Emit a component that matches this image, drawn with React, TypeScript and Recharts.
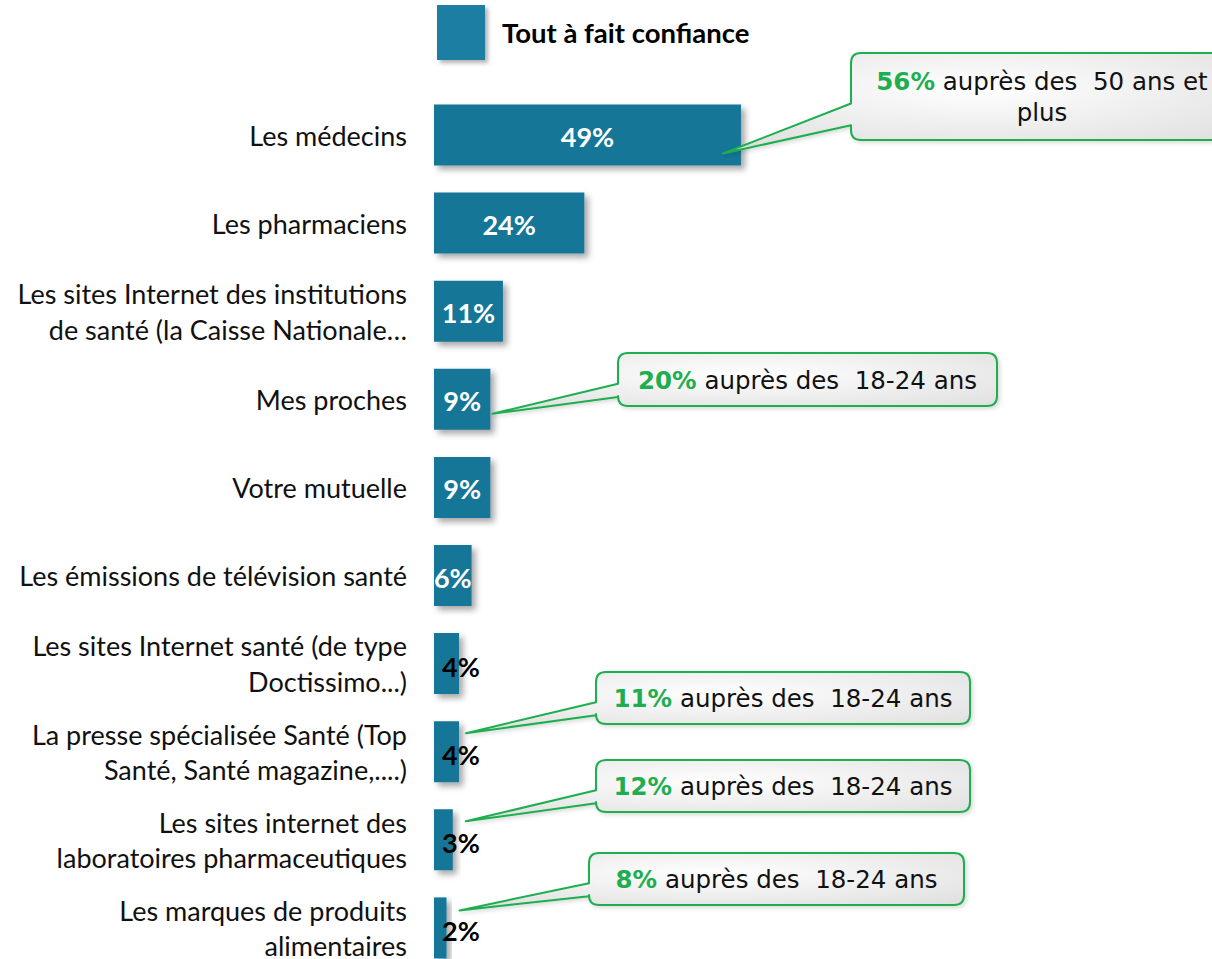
import { BarChart, Bar, XAxis, YAxis, LabelList } from 'recharts'

const categories = [
  'Les médecins',
  'Les pharmaciens',
  'Les sites Internet des institutions\nde santé (la Caisse Nationale…',
  'Mes proches',
  'Votre mutuelle',
  'Les émissions de télévision santé',
  'Les sites Internet santé (de type\nDoctissimo...)',
  'La presse spécialisée Santé (Top\nSanté, Santé magazine,....)',
  'Les sites internet des\nlaboratoires pharmaceutiques',
  'Les marques de produits\nalimentaires',
]
const toutAFait = [49, 24, 11, 9, 9, 6, 4, 4, 3, 2]
const seriesName = 'Tout à fait confiance'

// sub-group highlights shown in the green call-outs
const calloutPct = ['56%', '', '', '20%', '', '', '', '11%', '12%', '8%']
const calloutText = [
  'auprès des  50 ans et\nplus',
  '',
  '',
  'auprès des  18-24 ans',
  '',
  '',
  '',
  'auprès des  18-24 ans',
  'auprès des  18-24 ans',
  'auprès des  18-24 ans',
]

const data = categories.map((name, i) => ({ name, value: toutAFait[i], idx: i }))

// call-out box placement (page coords) + pointer tip relative to bar end / bar top
const calloutBoxes: Record<number, { x: number; y: number; w: number; h: number; tipDx: number; tipDy: number }> = {
  0: { x: 851, y: 53, w: 382, h: 87, tipDx: -18, tipDy: 49 },
  3: { x: 618, y: 353, w: 379, h: 53, tipDx: 2, tipDy: 45 },
  7: { x: 596, y: 672, w: 374, h: 52, tipDx: 7, tipDy: 12 },
  8: { x: 596, y: 760, w: 374, h: 52, tipDx: 13, tipDy: 12 },
  9: { x: 589, y: 853, w: 375, h: 52, tipDx: 13, tipDy: 13 },
}

const BAR = '#187698'
const GREEN = '#1fae4f'
const LABEL_FONT = 'Lato, "Open Sans", sans-serif'
const CALLOUT_FONT = '"DejaVu Sans", sans-serif'

const CategoryTick = ({ x, y, payload }: any) => {
  const lines = String(payload.value).split('\n')
  const lh = 35.5
  const start = y - ((lines.length - 1) * lh) / 2 + 2
  return (
    <text x={x} y={start} textAnchor="end" fontFamily={LABEL_FONT} fontSize={27} fill="#111">
      {lines.map((l, i) => (
        <tspan key={i} x={x} y={start + i * lh} dy={9}>{l}</tspan>
      ))}
    </text>
  )
}

const ValueLabel = (props: any) => {
  const { x, y, width, height, value } = props
  const cy = y + height / 2
  if (value >= 5) {
    return (
      <text x={x + width / 2} y={cy + 12} textAnchor="middle" fontFamily={LABEL_FONT} fontWeight={700} fontSize={27} fill="#fff">
        {value}%
      </text>
    )
  }
  return (
    <text x={x + 8} y={cy + 13} textAnchor="start" fontFamily={LABEL_FONT} fontWeight={700} fontSize={27} fill="#000">
      {value}%
    </text>
  )
}

const Callout = (props: any) => {
  const { x, y, width, value } = props
  const i = Number(value)
  const b = calloutBoxes[i]
  if (!b || !calloutPct[i]) return null
  const tx = x + width + b.tipDx
  const ty = y + b.tipDy
  const r = 10
  const { x: bx, y: by, w, h } = b
  const d = `M${bx + r},${by} H${bx + w - r} Q${bx + w},${by} ${bx + w},${by + r} V${by + h - r} Q${bx + w},${by + h} ${bx + w - r},${by + h} H${bx + r} Q${bx},${by + h} ${bx},${by + h - r} V${by + h * 0.83} L${tx},${ty} L${bx},${by + h * 0.58} V${by + r} Q${bx},${by} ${bx + r},${by} Z`
  const lines = calloutText[i].split('\n')
  const lh = 31
  const cx = bx + w / 2
  const first = by + h / 2 - ((lines.length - 1) * lh) / 2 + 9
  return (
    <g>
      <path d={d} fill="url(#calloutFill)" stroke={GREEN} strokeWidth={2} strokeLinejoin="round" filter="url(#softShadow)" />
      <text x={cx} y={first} textAnchor="middle" fontFamily={CALLOUT_FONT} fontSize={24.5} fill="#111" style={{ whiteSpace: 'pre' }}>
        {lines.map((l, k) =>
          k === 0 ? (
            <tspan key={k} x={cx} y={first}>
              <tspan fill={GREEN} fontWeight={700}>{calloutPct[i]}</tspan>
              <tspan>{' ' + l}</tspan>
            </tspan>
          ) : (
            <tspan key={k} x={cx} y={first + k * lh}>{l}</tspan>
          )
        )}
      </text>
    </g>
  )
}

export default function App() {
  return (
    <div style={{ position: 'absolute', left: 0, top: 0, width: 1212, height: 975, background: '#fff' }}>
      <svg width={0} height={0} style={{ position: 'absolute' }}>
        <defs>
          <filter id="barShadow" x="-20%" y="-20%" width="160%" height="160%">
            <feDropShadow dx={4} dy={4} stdDeviation={3} floodColor="#000" floodOpacity={0.35} />
          </filter>
          <filter id="softShadow" x="-10%" y="-10%" width="130%" height="140%">
            <feDropShadow dx={2} dy={2} stdDeviation={2} floodColor="#000" floodOpacity={0.15} />
          </filter>
          <radialGradient id="calloutFill" cx="50%" cy="35%" r="75%">
            <stop offset="0%" stopColor="#ffffff" />
            <stop offset="100%" stopColor="#dedede" />
          </radialGradient>
        </defs>
      </svg>

      <div style={{ position: 'absolute', left: 437, top: 5, display: 'flex', alignItems: 'center' }}>
        <div style={{ width: 48, height: 55, background: '#1d7ea3', boxShadow: '3px 3px 4px rgba(0,0,0,0.3)' }} />
        <span style={{ marginLeft: 17, fontFamily: LABEL_FONT, fontWeight: 700, fontSize: 27.5, color: '#000' }}>{seriesName}</span>
      </div>

      <BarChart
        width={1212}
        height={975}
        data={data}
        layout="vertical"
        margin={{ top: 90.5, right: 151.5, bottom: 3.5, left: 0 }}
        barCategoryGap={27}
      >
        <XAxis type="number" domain={[0, 100]} hide />
        <YAxis
          type="category"
          dataKey="name"
          width={434}
          axisLine={false}
          tickLine={false}
          tickSize={0}
          tickMargin={27}
          interval={0}
          tick={<CategoryTick />}
        />
        <Bar dataKey="value" name={seriesName} fill={BAR} barSize={61} filter="url(#barShadow)" isAnimationActive={false}>
          <LabelList dataKey="value" content={<ValueLabel />} />
          <LabelList dataKey="idx" content={<Callout />} />
        </Bar>
      </BarChart>
    </div>
  )
}
